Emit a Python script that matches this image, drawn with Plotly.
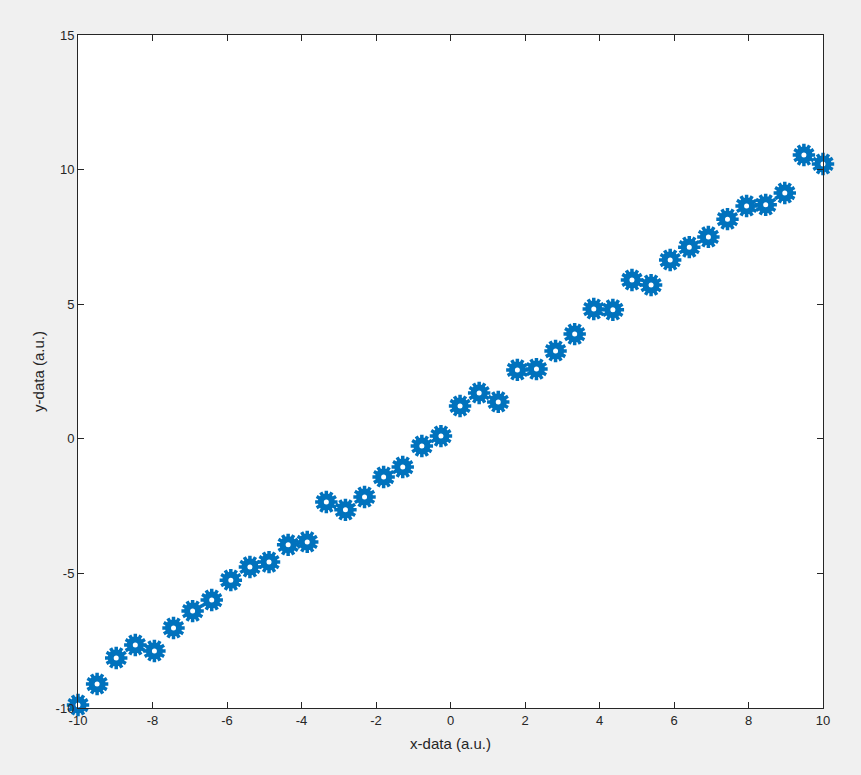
import plotly.graph_objects as go
import numpy as np

x_vals = list(np.linspace(-10, 10, 40))
y_vals = [-9.89, -9.11, -8.14, -7.66, -7.88, -7.03, -6.40, -5.99, -5.25, -4.76,
          -4.58, -3.94, -3.83, -2.35, -2.64, -2.16, -1.42, -1.05, -0.27, 0.10,
          1.22, 1.70, 1.37, 2.56, 2.59, 3.26, 3.89, 4.82, 4.79, 5.90,
          5.71, 6.64, 7.12, 7.50, 8.16, 8.65, 8.69, 9.13, 10.54, 10.21]
x_ticks = [-10, -8, -6, -4, -2, 0, 2, 4, 6, 8, 10]
y_ticks = [-10, -5, 0, 5, 10, 15]

blue = "#0072BD"
fig = go.Figure()
for ang in (0, 30, 60):
    fig.add_trace(go.Scatter(x=x_vals, y=y_vals, mode="markers",
                             marker=dict(symbol="cross-thin-open", size=16, angle=ang, color=blue,
                                         line=dict(color=blue, width=3.5)),
                             showlegend=False, hoverinfo="skip", cliponaxis=False))
fig.add_trace(go.Scatter(x=x_vals, y=y_vals, mode="markers", cliponaxis=False,
                         marker=dict(symbol="circle", size=11, color="white", line=dict(color=blue, width=6)),
                         showlegend=False))

axis_common = dict(showgrid=False, zeroline=False, ticks="inside", ticklen=6, tickwidth=1,
                   tickcolor="#262626", linecolor="#262626", linewidth=1, mirror="ticks",
                   showline=True, tickfont=dict(family="Liberation Sans, Arial", size=13, color="#262626"))
fig.update_xaxes(range=[-10, 10], tickvals=x_ticks, ticktext=[str(v) for v in x_ticks],
                 title=dict(text="x-data (a.u.)", font=dict(family="Liberation Sans, Arial", size=15, color="#262626"), standoff=11),
                 **axis_common)
fig.update_yaxes(range=[-10, 15], tickvals=y_ticks, ticktext=[str(v) for v in y_ticks],
                 title=dict(text="y-data (a.u.)", font=dict(family="Liberation Sans, Arial", size=15, color="#262626"), standoff=7),
                 **axis_common)
fig.update_layout(width=861, height=775, paper_bgcolor="#F0F0F0", plot_bgcolor="white",
                  margin=dict(l=78, r=38, t=35, b=67), autosize=False)
fig.write_html("out.html", config={"displayModeBar": False},
               post_script="document.body.style.margin='0';document.body.style.padding='0';document.body.style.background='#F0F0F0';")
